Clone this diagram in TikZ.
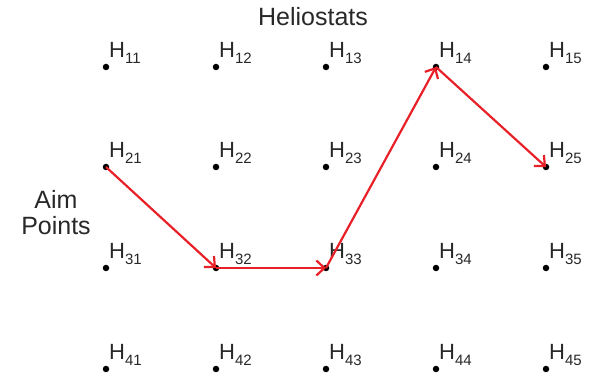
\documentclass[tikz,border=0pt]{standalone}
\usepackage{fontspec}
\setmainfont{Liberation Sans}
\usetikzlibrary{arrows.meta}
\definecolor{arrowred}{RGB}{232,32,40}
\definecolor{txt}{RGB}{40,40,40}
\begin{document}
\begin{tikzpicture}[x=1pt,y=1pt,
  dot/.style={circle,fill=black,inner sep=0pt,minimum size=6.5pt},
  lab/.style={anchor=base west,inner sep=0pt,text=txt,font=\fontsize{22}{26}\selectfont},
  title/.style={inner sep=0pt,text=txt,font=\fontsize{25}{27}\selectfont},
  route/.style={draw=arrowred,line width=2.2pt,-{Straight Barb[length=8pt,width=15pt,line width=2.2pt]}}]
\useasboundingbox (0,0) rectangle (599,377);
\foreach \i/\yy in {1/310,2/210,3/109,4/8}{
  \foreach \j in {1,...,5}{
    \node[dot] (h\i\j) at ({106+110*(\j-1)},\yy) {};
    \node[lab] (l\i\j) at ({106+110*(\j-1)+3},\yy+9) {H\raisebox{-6pt}{\fontsize{15}{17}\selectfont\i\j}};
  }
}
\node[title,anchor=base] (hel) at (313,351) {Heliostats};
\node[title,align=center,anchor=base] (aim) at (56,168) {Aim};
\node[title,align=center,anchor=base] (pts) at (56,142) {Points};
\draw[route] (h21.center) -- (h32.center);
\draw[route] (h32.center) -- (h33.center);
\draw[route] (h33.center) -- (h14.center);
\draw[route] (h14.center) -- (h25.center);
\end{tikzpicture}
\end{document}
